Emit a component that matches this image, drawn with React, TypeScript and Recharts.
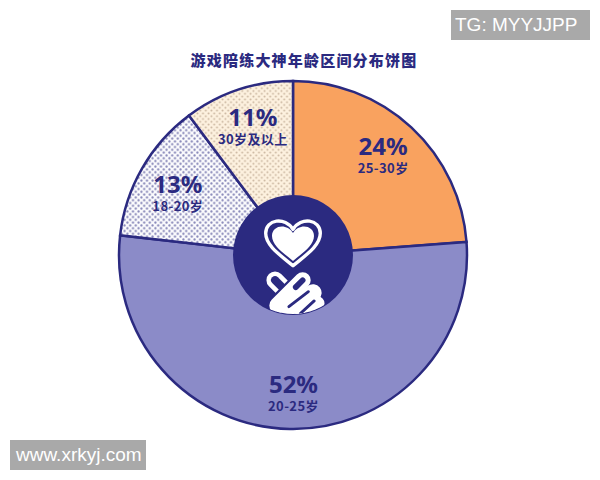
import { Pie, PieChart } from "recharts";

const NAVY = "#2b2a80";

const ageRanges = ["25-30岁", "20-25岁", "18-20岁", "30岁及以上"];
const sliceShares = [23.8, 53, 13, 10.2];
const percentLabels = ["24%", "52%", "13%", "11%"];
const sliceFills = ["#f9a25f", "#8b8bc8", "url(#dotsNavy)", "url(#dotsCream)"];

const sliceData = ageRanges.map((name, i) => ({
  name,
  value: sliceShares[i],
  percentLabel: percentLabels[i],
  fill: sliceFills[i],
}));
const hubData = [{ name: "hub", value: 1, fill: NAVY }];

// nudges off the radial label spot, by age range
const labelNudge: Record<string, number[]> = {
  "25-30岁": [-1, -2],
  "20-25岁": [3, 4],
  "18-20岁": [1, 5],
  "30岁及以上": [2, -2],
};

const RAD = Math.PI / 180;

function SliceLabel(props: any) {
  const { cx, cy, midAngle, payload, percentLabel, name } = props;
  const sub = name ?? payload?.name;
  const pct = percentLabel ?? payload?.percentLabel;
  const [dx, dy] = labelNudge[sub] ?? [0, 0];
  const x = cx + 134 * Math.cos(-midAngle * RAD) + dx;
  const y = cy + 134 * Math.sin(-midAngle * RAD) + dy;
  return (
    <g fill={NAVY} textAnchor="middle" fontWeight={700}>
      <text x={x} y={y} fontSize={24} fontFamily="'Noto Sans', sans-serif">
        {pct}
      </text>
      <text x={x} y={y + 18} fontSize={13} letterSpacing={0.4} fontFamily="'Noto Sans CJK SC', sans-serif">
        {sub}
      </text>
    </g>
  );
}

function HubIcon(props: any) {
  const { cx, cy } = props;
  const heart =
    "M0 16 C-8 9 -21 1 -21 -9 C-21 -20 -6 -22 0 -12 C6 -22 21 -20 21 -9 C21 1 8 9 0 16 Z";
  const stroke = (x1: number, y1: number, x2: number, y2: number, color: string, w: number) => (
    <line x1={x1} y1={y1} x2={x2} y2={y2} stroke={color} strokeWidth={w} strokeLinecap="round" />
  );
  return (
    <g>
      <clipPath id="hubClip">
        <circle cx={cx} cy={cy} r={59} />
      </clipPath>
      <g transform={`translate(${cx} ${cy - 10})`}>
        <path d={heart} fill={NAVY} stroke="#fff" strokeWidth={2.6} transform="scale(1.3)" strokeLinejoin="round" />
        <path d={heart} fill="#fff" />
      </g>
      <g clipPath="url(#hubClip)">
        <g transform={`translate(${cx - 3} ${cy + 39}) scale(1.15)`}>
          {stroke(-13, -12, 9, 10, "#fff", 15)}
          {stroke(-13, -12, 9, 10, NAVY, 7)}
          {stroke(11, -12, -11, 10, NAVY, 18)}
          {stroke(11, -12, -11, 10, "#fff", 14)}
          {stroke(11, -12, 5, -6, NAVY, 5)}
          {stroke(-4, 18, 20, -1, "#fff", 15)}
          {stroke(8, 22, 24, 8, "#fff", 12)}
          {stroke(-1, 11, 16, -2, NAVY, 2.5)}
          {stroke(9, 17, 21, 6, NAVY, 2.5)}
        </g>
      </g>
    </g>
  );
}

const stampStyle = {
  position: "absolute" as const,
  background: "#a9a9a9",
  color: "#fff",
  fontFamily: "'Liberation Sans', sans-serif",
  fontSize: 19,
  lineHeight: "30px",
};

export default function App() {
  return (
    <div style={{ position: "fixed", left: 0, top: 0, width: 600, height: 480, background: "#fff" }}>
      <div
        style={{
          position: "absolute",
          left: 0,
          width: 608,
          top: 50,
          textAlign: "center",
          color: NAVY,
          fontFamily: "'Noto Sans CJK SC', sans-serif",
          fontWeight: 900,
          fontSize: 15,
          letterSpacing: 1.2,
          lineHeight: "20px",
        }}
      >
        游戏陪练大神年龄区间分布饼图
      </div>
      <PieChart width={600} height={480} margin={{ top: 0, right: 0, bottom: 0, left: 0 }}>
        <defs>
          <pattern id="dotsNavy" width={5.6} height={5.6} patternUnits="userSpaceOnUse">
            <rect width={5.6} height={5.6} fill="#fbfbfd" />
            <circle cx={1.4} cy={1.4} r={1.1} fill="#8484b6" />
            <circle cx={4.2} cy={4.2} r={1.1} fill="#8484b6" />
          </pattern>
          <pattern id="dotsCream" width={5.6} height={5.6} patternUnits="userSpaceOnUse">
            <rect width={5.6} height={5.6} fill="#fdf1df" />
            <circle cx={1.4} cy={1.4} r={1} fill="#c9b49e" />
            <circle cx={4.2} cy={4.2} r={1} fill="#c9b49e" />
          </pattern>
        </defs>
        <Pie
          data={sliceData}
          dataKey="value"
          nameKey="name"
          cx={293}
          cy={255}
          outerRadius={174}
          startAngle={90}
          endAngle={-270}
          stroke={NAVY}
          strokeWidth={2.5}
          label={SliceLabel}
          labelLine={false}
          isAnimationActive={false}
        />
        <Pie
          data={hubData}
          dataKey="value"
          cx={293}
          cy={255}
          outerRadius={60}
          stroke="none"
          label={HubIcon}
          labelLine={false}
          isAnimationActive={false}
        />
      </PieChart>
      <div style={{ ...stampStyle, left: 451, top: 10, width: 135, paddingLeft: 4 }}>TG: MYYJJPP</div>
      <div style={{ ...stampStyle, left: 10, top: 440, width: 130, paddingLeft: 6 }}>www.xrkyj.com</div>
    </div>
  );
}
